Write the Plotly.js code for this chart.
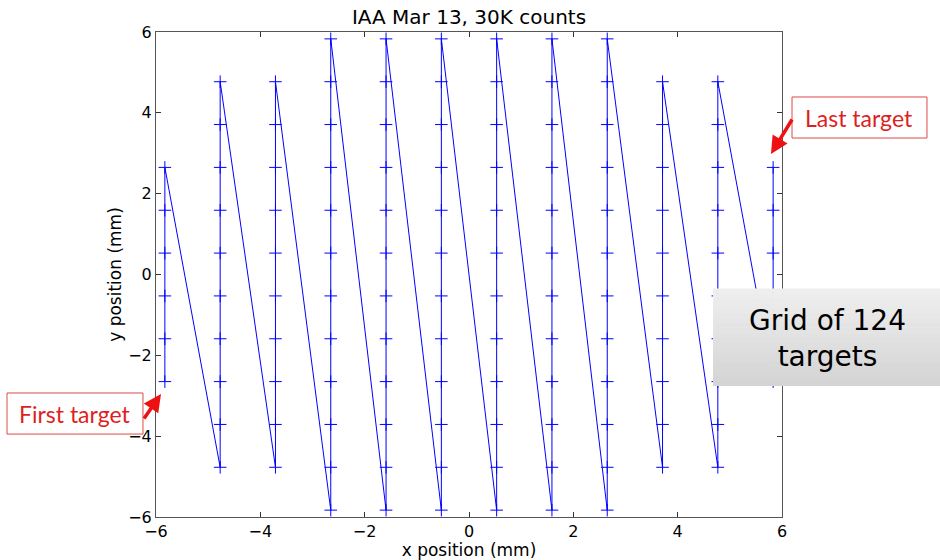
<!DOCTYPE html>
<html>
<head>
<meta charset="utf-8">
<script src="https://cdn.plot.ly/plotly-3.0.1.min.js"></script>
<style>
  html, body { margin: 0; padding: 0; background: #ffffff; }
  #chart { width: 940px; height: 560px; }
</style>
</head>
<body>
<div id="chart"></div>
<script>
// Column x positions (mm), scanned left to right
const colX = [-5.83, -4.77, -3.71, -2.65, -1.59, -0.53, 0.53, 1.59, 2.65, 3.71, 4.77, 5.83];

// Target y positions (mm) in each column, scanned bottom to top
const colY1  = [-2.65, -1.59, -0.53, 0.53, 1.59, 2.65];
const colY2  = [-4.77, -3.71, -2.65, -1.59, -0.53, 0.53, 1.59, 2.65, 3.71, 4.77];
const colY3  = [-4.77, -3.71, -2.65, -1.59, -0.53, 0.53, 1.59, 2.65, 3.71, 4.77];
const colY4  = [-5.83, -4.77, -3.71, -2.65, -1.59, -0.53, 0.53, 1.59, 2.65, 3.71, 4.77, 5.83];
const colY5  = [-5.83, -4.77, -3.71, -2.65, -1.59, -0.53, 0.53, 1.59, 2.65, 3.71, 4.77, 5.83];
const colY6  = [-5.83, -4.77, -3.71, -2.65, -1.59, -0.53, 0.53, 1.59, 2.65, 3.71, 4.77, 5.83];
const colY7  = [-5.83, -4.77, -3.71, -2.65, -1.59, -0.53, 0.53, 1.59, 2.65, 3.71, 4.77, 5.83];
const colY8  = [-5.83, -4.77, -3.71, -2.65, -1.59, -0.53, 0.53, 1.59, 2.65, 3.71, 4.77, 5.83];
const colY9  = [-5.83, -4.77, -3.71, -2.65, -1.59, -0.53, 0.53, 1.59, 2.65, 3.71, 4.77, 5.83];
const colY10 = [-4.77, -3.71, -2.65, -1.59, -0.53, 0.53, 1.59, 2.65, 3.71, 4.77];
const colY11 = [-4.77, -3.71, -2.65, -1.59, -0.53, 0.53, 1.59, 2.65, 3.71, 4.77];
const colY12 = [-2.65, -1.59, -0.53, 0.53, 1.59, 2.65];
const colYs = [colY1, colY2, colY3, colY4, colY5, colY6, colY7, colY8, colY9, colY10, colY11, colY12];

const tickVals = [-6, -4, -2, 0, 2, 4, 6];

const titleText = 'IAA Mar 13, 30K counts';
const xTitle = 'x position (mm)';
const yTitle = 'y position (mm)';
const firstLabel = 'First target';
const lastLabel = 'Last target';
const gridLabel = 'Grid of 124<br>targets';

// Build the scan path
const xs = [], ys = [];
colYs.forEach((col, i) => { col.forEach(v => { xs.push(colX[i]); ys.push(v); }); });

const trace = {
  x: xs, y: ys,
  type: 'scatter',
  mode: 'lines+markers',
  line: { color: '#0000ff', width: 1 },
  marker: { symbol: 'cross-thin-open', size: 9, color: '#0000ff', line: { color: '#0000ff', width: 1 } },
  hoverinfo: 'x+y'
};

const axisCommon = {
  range: [-6, 6],
  tickvals: tickVals,
  ticks: 'inside',
  ticklen: 5,
  tickwidth: 1,
  tickcolor: '#333',
  mirror: 'ticks',
  showline: true,
  linecolor: '#555',
  linewidth: 1,
  showgrid: false,
  zeroline: false,
  tickfont: { family: 'DejaVu Sans', size: 16, color: '#000' }
};

// Gradient panel for the "Grid of 124 targets" box
const shapes = [];
const gx0 = 0.8898, gx1 = 1.26, gy0 = 0.2701, gy1 = 0.4701;
const steps = 20;
for (let k = 0; k < steps; k++) {
  const t = k / (steps - 1);
  const g = Math.round(0xd4 + (0xee - 0xd4) * t);
  const c = 'rgb(' + g + ',' + g + ',' + g + ')';
  shapes.push({
    type: 'rect', xref: 'paper', yref: 'paper', layer: 'above',
    x0: gx0, x1: gx1,
    y0: gy0 + (gy1 - gy0) * k / steps, y1: gy0 + (gy1 - gy0) * (k + 1) / steps + 0.001,
    fillcolor: c, line: { width: 0 }
  });
}
// Red-bordered label boxes
shapes.push({ type: 'rect', xref: 'paper', yref: 'paper', layer: 'above',
  x0: -0.238, x1: -0.0208, y0: 0.171, y1: 0.2557,
  fillcolor: '#ffffff', line: { color: '#e04848', width: 1 } });
shapes.push({ type: 'rect', xref: 'paper', yref: 'paper', layer: 'above',
  x0: 1.016, x1: 1.2316, y0: 0.7814, y1: 0.866,
  fillcolor: '#ffffff', line: { color: '#e04848', width: 1 } });

const annotations = [
  { xref: 'paper', yref: 'paper', x: -0.1294, y: 0.2134, text: firstLabel, showarrow: false,
    font: { family: 'Lato', size: 23, color: '#dd1f1f' }, xanchor: 'center', yanchor: 'middle' },
  { xref: 'paper', yref: 'paper', x: 1.1238, y: 0.8237, text: lastLabel, showarrow: false,
    font: { family: 'Lato', size: 23, color: '#dd1f1f' }, xanchor: 'center', yanchor: 'middle' },
  { xref: 'paper', yref: 'paper', x: 0.008, y: 0.2536, text: '', showarrow: true,
    ax: -18, ay: 26, arrowcolor: '#ee1111', arrowwidth: 3.5, arrowhead: 2, arrowsize: 1, standoff: 0 },
  { xref: 'paper', yref: 'paper', x: 0.9824, y: 0.7485, text: '', showarrow: true,
    ax: 22, ay: -36, arrowcolor: '#ee1111', arrowwidth: 3.5, arrowhead: 2, arrowsize: 1, standoff: 0 },
  { xref: 'paper', yref: 'paper', x: 1.0719, y: 0.369, text: gridLabel, showarrow: false,
    font: { family: 'DejaVu Sans', size: 28, color: '#000' }, xanchor: 'center', yanchor: 'middle' }
];

const layout = {
  width: 940, height: 560,
  margin: { l: 156, r: 158, t: 32, b: 43 },
  paper_bgcolor: '#ffffff',
  plot_bgcolor: '#ffffff',
  showlegend: false,
  title: { text: titleText, font: { family: 'DejaVu Sans', size: 20, color: '#000' },
    xref: 'paper', x: 0.5, xanchor: 'center', yref: 'container', y: 0.982, yanchor: 'top' },
  xaxis: Object.assign({}, axisCommon, {
    title: { text: xTitle, font: { family: 'DejaVu Sans', size: 17, color: '#000' }, standoff: 5 }
  }),
  yaxis: Object.assign({}, axisCommon, {
    title: { text: yTitle, font: { family: 'DejaVu Sans', size: 17, color: '#000' }, standoff: 2 }
  }),
  shapes: shapes,
  annotations: annotations
};

Plotly.newPlot('chart', [trace], layout, { displayModeBar: false, staticPlot: true });
</script>
</body>
</html>
